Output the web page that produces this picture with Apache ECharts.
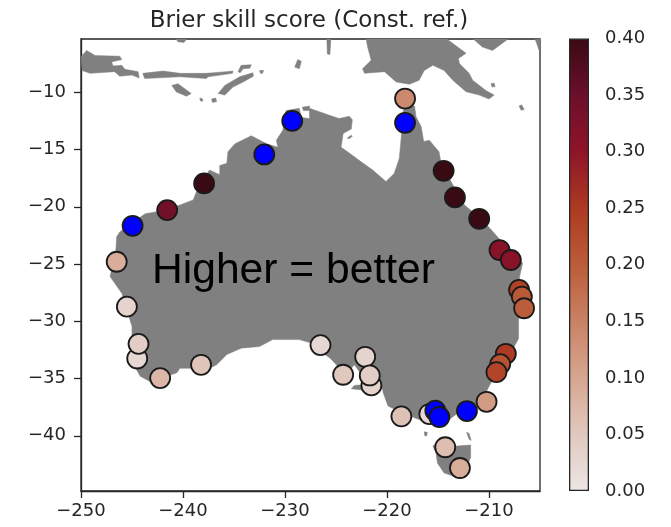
<!DOCTYPE html>
<html><head><meta charset="utf-8">
<style>html,body{margin:0;padding:0;background:#fff}#c{width:671px;height:527px}</style>
<script src="https://cdn.jsdelivr.net/npm/echarts@6/dist/echarts.min.js"></script>
</head><body><div id="c"></div>
<script>
const mainlandCoast = [[-246.5,-22.6],[-246.2,-22.2],[-245,-21.4],[-243.7,-20.6],[-242.3,-20.4],[-240.3,-19.85],[-239,-19.4],[-238.5,-18.25],[-237.4,-16.8],[-236.4,-17.2],[-236.4,-16.4],[-235.7,-16.2],[-235.6,-15.2],[-234.9,-14.5],[-233.3,-13.8],[-231.8,-14.5],[-230.7,-14.8],[-230.85,-14.2],[-230.2,-13.3],[-229.9,-11.6],[-228.6,-11.4],[-228.4,-12.2],[-227.6,-12.3],[-227.6,-11.4],[-226,-11.9],[-224.7,-12.3],[-223.7,-12.1],[-223.4,-12.4],[-223.5,-13.2],[-224.3,-13.6],[-224.5,-14.8],[-223.7,-15.3],[-222.5,-16.1],[-221.4,-16.8],[-220.1,-17.8],[-219.3,-17.1],[-218.8,-15.8],[-218.6,-13.9],[-218.5,-11.9],[-218.1,-10.85],[-217.3,-11.2],[-217.15,-12.15],[-216.65,-13],[-216.4,-14.3],[-215.85,-14.2],[-214.9,-15.2],[-214.7,-16.2],[-213.6,-18],[-212.4,-19.85],[-210.6,-21.2],[-209.5,-22.3],[-208,-23.8],[-206.7,-24.9],[-207,-26.1],[-207.1,-29.9],[-207.1,-31.5],[-207.7,-32.5],[-208.3,-33.4],[-209.3,-34.5],[-210,-35.7],[-210.6,-36.7],[-211.6,-37.4],[-212.6,-37.7],[-213.7,-38.45],[-214.55,-39.2],[-215.5,-39],[-216.8,-38.6],[-218.5,-38],[-219.9,-37.4],[-220.35,-36.3],[-220.6,-35.4],[-222.4,-35.1],[-222.7,-34.4],[-223.2,-33.8],[-223.5,-34.1],[-224.8,-33.95],[-225.6,-33.2],[-226.6,-32.6],[-227.6,-31.85],[-228.6,-31.6],[-231.2,-31.6],[-232.5,-32.2],[-234.3,-32.35],[-235.7,-32.9],[-236.7,-33.8],[-237.4,-34.1],[-240.3,-34.1],[-240.6,-34.5],[-241.6,-34.8],[-243.25,-35.25],[-244.2,-34.8],[-244.9,-33.65],[-245,-31.9],[-245,-30.45],[-246,-27.55],[-247.15,-26.1],[-246.6,-24]];
const tasmania = [[-215.5,-40.9],[-214.7,-40.35],[-213.2,-40.9],[-211.8,-40.8],[-211.8,-41.9],[-212.3,-42.95],[-213.2,-43.6],[-214.4,-43.25],[-215.05,-42.4],[-215.2,-41.5]];
const newGuinea = [[-222.05,-5.3],[-214.2,-5.3],[-212.25,-6.6],[-213,-7.05],[-212.9,-7.5],[-211.95,-8.35],[-211.6,-8.95],[-210.3,-9.85],[-209.5,-10.25],[-210,-10.6],[-210.95,-10.25],[-212.25,-9.95],[-213.55,-8.95],[-214.4,-8.1],[-215.5,-7.65],[-216.35,-8.1],[-216.85,-8.95],[-217.8,-9.3],[-219.1,-9.1],[-220.25,-8.2],[-222.2,-8.35],[-222.4,-7.95],[-221.55,-7.2],[-221.9,-6.05]];
const sumatraJava = [[-250,-6.9],[-249.45,-6.35],[-248.6,-6.8],[-246.2,-6.85],[-246,-7.15],[-247,-7.35],[-246.85,-7.7],[-246,-7.65],[-245.7,-8],[-244.4,-8.2],[-244.3,-8.75],[-245,-8.5],[-246.2,-8.6],[-246.7,-8.2],[-249.1,-8.35],[-249.9,-8.1]];
const lesserSunda = [[-243.95,-8.35],[-241.95,-8.15],[-240.3,-8.35],[-237.7,-8.35],[-235.75,-8.2],[-235.1,-8.15],[-235.15,-8.35],[-237.55,-8.65],[-237.7,-8.8],[-240.3,-8.65],[-243.75,-8.8]];
const sumba = [[-241.1,-9.4],[-240.5,-9.25],[-239.2,-10.1],[-239.65,-10.35],[-240.65,-9.97]];
const timor = [[-236.55,-10.1],[-235.9,-9.4],[-234.45,-8.65],[-233.15,-8.3],[-233.1,-8.6],[-234.1,-9.1],[-235.1,-9.55],[-235.9,-10.25]];
const wetar = [[-234.6,-8.2],[-234.3,-7.65],[-233.3,-7.6],[-233.45,-7.9],[-234.1,-7.95],[-234.4,-8.3]];
const newBritain = [[-211.6,-5.3],[-208.05,-5.3],[-209.65,-6.35],[-210.65,-6.05]];
const smallIslands = [
  [[-223.5,-35.9],[-223.2,-35.6],[-222.4,-35.55],[-222.4,-36]],
  [[-216.34,-39.65],[-216.05,-39.7],[-216.1,-40],[-216.3,-40]],
  [[-212.2,-39.7],[-211.95,-39.8],[-211.75,-40.4],[-211.95,-40.3]],
  [[-238.35,-10.5],[-238.05,-10.6],[-238.1,-10.8],[-238.3,-10.75]],
  [[-237.2,-10.6],[-236.8,-10.5],[-236.7,-10.8],[-237.1,-10.9]],
  [[-232.5,-8.1],[-232.1,-8.1],[-232.2,-8.35],[-232.4,-8.35]],
  [[-229.05,-7.8],[-228.75,-7.15],[-228.4,-7.3],[-228.6,-7.95]],
  [[-240.7,-5.3],[-239.6,-5.3],[-239.9,-5.65],[-240.5,-5.6]],
  [[-205.5,-5.3],[-204.9,-5.3],[-205.1,-6.3]],
  [[-225.9,-5.3],[-225.5,-5.3],[-225.6,-6.7],[-225.85,-6.65]],
  [[-207.05,-11.2],[-206.8,-11.1],[-206.55,-11.5],[-206.85,-11.57]],
  [[-209.8,-9.25],[-209.5,-9.2],[-209.4,-9.5],[-209.7,-9.55]],
  [[-223.9,-14],[-223.5,-13.75],[-223.4,-13.85],[-223.7,-14.05]],
  [[-228.3,-11.3],[-227.6,-11.2],[-227.6,-11.6],[-228.2,-11.6]]
];
const landPolygons = [mainlandCoast, tasmania, newGuinea, sumatraJava, lesserSunda, sumba, timor, wetar, newBritain, ...smallIslands];

const stationLon = [-218.23,-237.93,-241.55,-246.5,-245.5,-244.49,-244.36,-242.24,-238.23,-226.52,-224.3,-221.53,-222.14,-221.69,-218.59,-215.85,-210.24,-214.29,-212.85,-208.35,-208.9,-209.27,-207.05,-206.78,-206.56,-208.97,-207.86,-210.96,-213.34,-214.45];
const stationLat = [-10.55,-17.96,-20.29,-24.8,-28.72,-33.25,-31.97,-34.96,-33.8,-32.08,-34.67,-35.6,-33.1,-34.73,-38.3,-38.1,-37.03,-41,-42.81,-32.84,-33.74,-34.44,-27.26,-27.85,-28.86,-23.78,-24.65,-21.05,-19.18,-16.86];
const skillScore = [0.14,0.4,0.34,0.09,0.03,0.025,0.04,0.075,0.055,0.025,0.05,0.03,0.03,0.04,0.06,0.02,0.115,0.065,0.09,0.25,0.215,0.235,0.24,0.205,0.2,0.31,0.31,0.4,0.4,0.4];
const negativeLon = [-229.29,-232.03,-244.94,-218.23,-215.26,-214.87,-212.16];
const negativeLat = [-12.5,-15.43,-21.66,-12.67,-37.81,-38.36,-37.84];

const xTicks = [-250,-240,-230,-220,-210];
const yTicks = [-40,-35,-30,-25,-20,-15,-10];
const colorbarTicks = [0,0.05,0.1,0.15,0.2,0.25,0.3,0.35,0.4];
const colormap = ['#ece6e4','#e0c8bf','#d6a690','#c98265','#bb5c3a','#ad3a22','#8f1428','#6b0f2b','#3a0a14'];
const ink = '#262626';
const minus = v => String(v).replace('-', '\u2212');

const chart = echarts.init(document.getElementById('c'), null, {renderer:'canvas'});
chart.setOption({
  animation:false,
  backgroundColor:'#fff',
  title:{text:'Brier skill score (Const. ref.)',left:304,top:5,textAlign:'center',
    textStyle:{fontFamily:'DejaVu Sans',fontSize:23,fontWeight:'normal',color:ink}},
  grid:[
    {left:81,top:39,width:459,height:452,show:true,borderColor:ink,borderWidth:1.3,backgroundColor:'#fff'},
    {left:569,top:38.5,width:20,height:452.5}
  ],
  xAxis:[
    {gridIndex:0,type:'value',min:-250,max:-205,splitLine:{show:false},
      axisLine:{lineStyle:{color:ink,width:1.3}},
      axisTick:{length:7,customValues:xTicks,lineStyle:{color:ink,width:1.3}},
      axisLabel:{customValues:xTicks,formatter:minus,color:ink,fontFamily:'DejaVu Sans',fontSize:18,margin:11}},
    {gridIndex:1,type:'category',data:[''],show:false}
  ],
  yAxis:[
    {gridIndex:0,type:'value',min:-44.82,max:-5.35,splitLine:{show:false},
      axisLine:{lineStyle:{color:ink,width:1.3}},
      axisTick:{length:7,customValues:yTicks,lineStyle:{color:ink,width:1.3}},
      axisLabel:{customValues:yTicks,formatter:minus,color:ink,fontFamily:'DejaVu Sans',fontSize:18,margin:15}},
    {gridIndex:1,type:'value',position:'right',min:0,max:0.4,interval:0.05,splitLine:{show:false},
      axisLine:{show:false},
      axisTick:{length:7,lineStyle:{color:ink,width:1.3}},
      axisLabel:{formatter:v=>v.toFixed(2),color:ink,fontFamily:'DejaVu Sans',fontSize:18,margin:16}}
  ],
  visualMap:{show:false,seriesIndex:1,dimension:2,min:0,max:0.4,inRange:{color:colormap}},
  series:[
    {type:'custom',xAxisIndex:0,yAxisIndex:0,clip:true,silent:true,z:1,
      data:landPolygons.map((p,i)=>[i]),
      renderItem:(params,api)=>({
        type:'polygon',
        shape:{points:landPolygons[api.value(0)].map(p=>api.coord(p))},
        style:{fill:'#808080',stroke:'#808080',lineWidth:0.5}
      })},
    {type:'scatter',xAxisIndex:0,yAxisIndex:0,symbolSize:20,z:3,silent:true,
      itemStyle:{borderColor:'#1a1a1a',borderWidth:1.8,opacity:1},
      data:stationLon.map((lon,i)=>[lon,stationLat[i],skillScore[i]])},
    {type:'scatter',xAxisIndex:0,yAxisIndex:0,symbolSize:20,z:4,silent:true,
      itemStyle:{color:'#0000ff',borderColor:'#1a1a1a',borderWidth:1.8,opacity:1},
      data:negativeLon.map((lon,i)=>[lon,negativeLat[i]])},
    {type:'bar',xAxisIndex:1,yAxisIndex:1,barWidth:'100%',silent:true,
      data:[0.4],
      itemStyle:{borderColor:ink,borderWidth:1.3,
        color:new echarts.graphic.LinearGradient(0,1,0,0,colormap.map((c,i)=>({offset:colorbarTicks[i]/0.4,color:c})))}}
  ],
  graphic:[{type:'text',left:152,top:250,z:100,
    style:{text:'Higher = better',fontFamily:'Liberation Sans',fontSize:42.6,fill:'#000'}}]
});
</script></body></html>
